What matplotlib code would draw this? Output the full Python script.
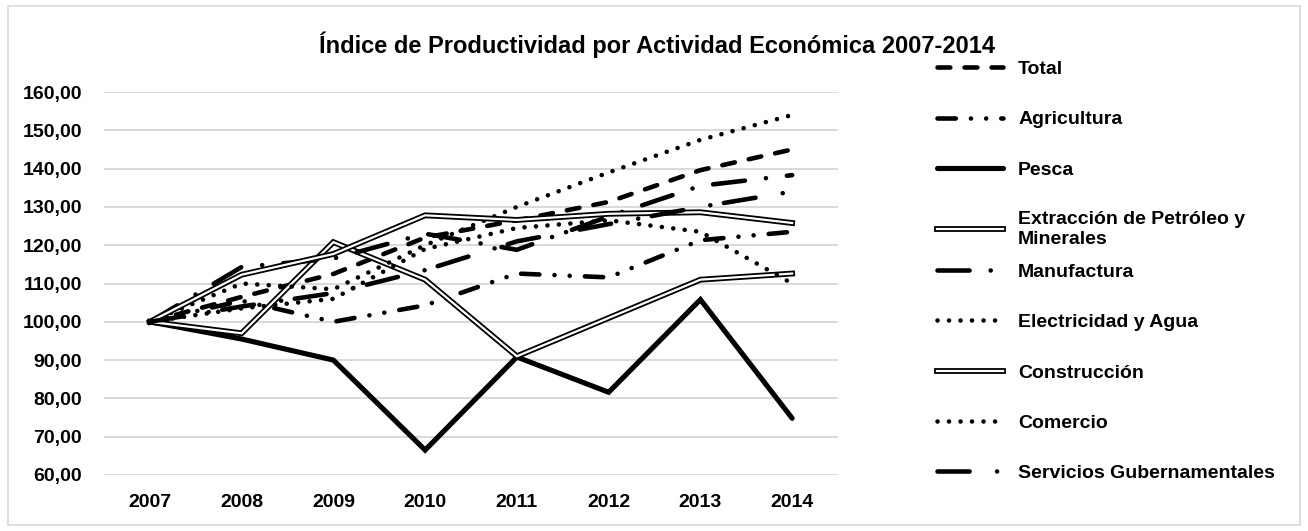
import matplotlib
matplotlib.use("Agg")
import matplotlib.pyplot as plt
from matplotlib.patches import Rectangle
from matplotlib.legend_handler import HandlerTuple

plt.rcParams["font.family"] = ["Liberation Sans Narrow", "Liberation Sans", "DejaVu Sans"]
plt.rcParams["font.weight"] = "bold"

years = ["2007", "2008", "2009", "2010", "2011", "2012", "2013", "2014"]

total = [100, 106.5, 112.5, 122, 126.5, 131.3, 139.6, 145]
agricultura = [100, 105.5, 100, 104.3, 112.6, 111.6, 121.3, 123.5]
pesca = [100, 95.5, 90, 66.5, 90.8, 81.6, 105.8, 74.8]
extraccion = [100, 97, 120.8, 111, 91, 101, 111, 112.6]
manufactura = [100, 114.3, 116.5, 123, 118.8, 127.5, 135.5, 138.3]
electricidad = [100, 110, 108.5, 120, 130, 139, 147.5, 154]
construccion = [100, 112.3, 117.7, 127.8, 126.6, 128.2, 128.6, 125.8]
comercio = [100, 103.5, 106, 119, 124.5, 126.5, 123.5, 110]
servicios = [100, 104, 107.5, 113.5, 121, 125.5, 130, 134]

FS = 14
LW = 3.3
DOT = (0, (0.01, 2.5))

fig = plt.figure(figsize=(13.08, 5.31), dpi=100)
ax = fig.add_axes([0.0795, 0.1055, 0.5612, 0.7212])
x = list(range(len(years)))


def styled(y, dashes, lw=LW):
    (ln,) = ax.plot(x, y, color="black", lw=lw, linestyle=dashes,
                    dash_capstyle="round", solid_capstyle="round",
                    solid_joinstyle="miter", zorder=3)
    return ln


def double(y):
    outer, = ax.plot(x, y, color="black", lw=4.2, solid_joinstyle="miter", zorder=3)
    inner, = ax.plot(x, y, color="white", lw=1.6, solid_joinstyle="miter", zorder=3)
    return (outer, inner)


handles = [
    styled(total, (0, (2.8, 3.1))),
    styled(agricultura, (0, (4.0, 3.3, 0.01, 3.3, 0.01, 3.3))),
    styled(pesca, "-", lw=3.7),
    double(extraccion),
    styled(manufactura, (0, (7.0, 4.6, 0.01, 4.6))),
    styled(electricidad, DOT),
    double(construccion),
    styled(comercio, DOT),
    styled(servicios, (0, (7.0, 6.0, 0.01, 3.0))),
]
labels = ["Total", "Agricultura", "Pesca", "Extracción de Petróleo y\nMinerales",
          "Manufactura", "Electricidad y Agua", "Construcción", "Comercio",
          "Servicios Gubernamentales"]

ax.set_xlim(-0.5, 7.5)
ax.set_ylim(60, 160)
ax.set_yticks(range(60, 161, 10))
ax.set_yticklabels([f"{v},00" for v in range(60, 161, 10)])
ax.set_xticks(x)
ax.set_xticklabels(years)
ax.tick_params(length=0, labelsize=FS)
ax.tick_params(axis="y", pad=16)
ax.tick_params(axis="x", pad=14)
ax.grid(axis="y", color="#d9d9d9", lw=1.4, zorder=0)
ax.set_axisbelow(True)
for s in ax.spines.values():
    s.set_visible(False)

fig.text(0.502, 0.915, "Índice de Productividad por Actividad Económica 2007-2014",
         ha="center", va="center", fontsize=17, fontweight="bold")

# two legend blocks so the two-line entry does not push the rest down
leg_kw = dict(loc="upper left", frameon=False, fontsize=FS, handlelength=3.4,
              handletextpad=0.8, labelspacing=1.68, borderpad=0, borderaxespad=0,
              handler_map={tuple: HandlerTuple(ndivide=1)})
fig.legend(handles[:4], labels[:4], bbox_to_anchor=(0.716, 0.886), **leg_kw)
fig.legend(handles[4:], labels[4:], bbox_to_anchor=(0.716, 0.504), **leg_kw)

fig.patches.append(Rectangle((0.006, 0.012), 0.988, 0.976, transform=fig.transFigure,
                             fill=False, edgecolor="#d9d9d9", lw=1.2))

fig.savefig("out.png", dpi=100)
